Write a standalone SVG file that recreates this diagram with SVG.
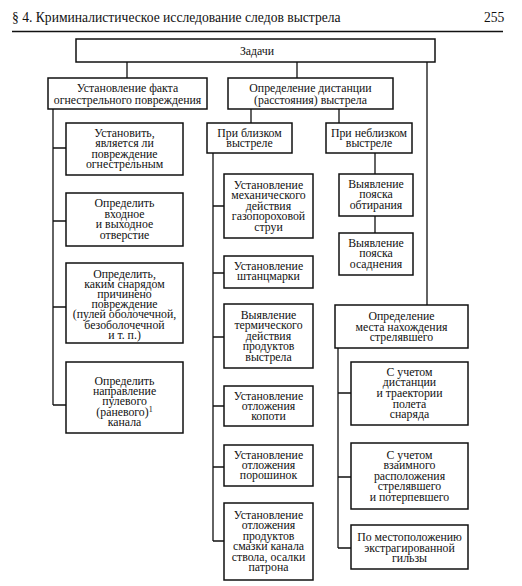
<svg xmlns="http://www.w3.org/2000/svg" width="522" height="586" viewBox="0 0 522 586" font-family="'Liberation Serif', 'Times New Roman', serif">
<style>
.bx{fill:#fff;stroke:#111;stroke-width:1.5}
.ln{stroke:#111;stroke-width:1.3;fill:none}
text{font-family:"Liberation Serif","Times New Roman",serif;fill:#111;font-size:11.8px;text-anchor:middle}
.hd{font-size:13.6px;text-anchor:start}
</style>
<rect width="522" height="586" fill="#fff"/>
<g id="header">
<text class="hd" x="12" y="21.5">§ 4. Криминалистическое исследование следов выстрела</text>
<text class="hd" x="484" y="21.5">255</text>
<line x1="12" y1="31.5" x2="503" y2="31.5" stroke="#111" stroke-width="1.5"/>
</g>
<g id="connectors">
<path class="ln" d="M127 62V78M297 62V78M427 62V305M251 109V123M339 109V123"/>
<path class="ln" d="M53 109V405M53 148H66M53 221H66M53 307H66M53 405H66"/>
<path class="ln" d="M213 153V541M213 206H224M213 273H224M213 337H224M213 406H224M213 467H224M213 541H224"/>
<path class="ln" d="M375 153V174M375 216V233"/>
<path class="ln" d="M338 348V548M338 393H351M338 477H351M338 548H351"/>
</g>
<g id="zadachi"><rect class="bx" x="76" y="39" width="359" height="23"/><text x="257" y="54.5">Задачи</text></g>
<g id="fact"><rect class="bx" x="48" y="78" width="159" height="31"/><text x="127.5" y="91.5">Установление факта<tspan x="127.5" dy="12">огнестрельного повреждения</tspan></text></g>
<g id="distance"><rect class="bx" x="228" y="78" width="165" height="31"/><text x="310.5" y="91.5">Определение дистанции<tspan x="310.5" dy="12">(расстояния) выстрела</tspan></text></g>
<g id="a1"><rect class="bx" x="66" y="123" width="117" height="52"/><text x="124.5" y="136.5">Установить,<tspan x="124.5" dy="10.5">является ли</tspan><tspan x="124.5" dy="10.5">повреждение</tspan><tspan x="124.5" dy="10.5">огнестрельным</tspan></text></g>
<g id="a2"><rect class="bx" x="66" y="193" width="117" height="53"/><text x="124.5" y="207">Определить<tspan x="124.5" dy="10.5">входное</tspan><tspan x="124.5" dy="10.5">и выходное</tspan><tspan x="124.5" dy="10.5">отверстие</tspan></text></g>
<g id="a3"><rect class="bx" x="66" y="263" width="117" height="80"/><text x="124.5" y="277.5">Определить,<tspan x="124.5" dy="10.2">каким снарядом</tspan><tspan x="124.5" dy="10.2">причинено</tspan><tspan x="124.5" dy="10.2">повреждение</tspan><tspan x="124.5" dy="10.2">(пулей оболочечной,</tspan><tspan x="124.5" dy="10.2">безоболочечной</tspan><tspan x="124.5" dy="10.2">и т. п.)</tspan></text></g>
<g id="a4"><rect class="bx" x="66" y="362" width="117" height="71"/><text x="124.5" y="384.5">Определить<tspan x="124.5" dy="10.4">направление</tspan><tspan x="124.5" dy="10.4">пулевого</tspan><tspan x="124.5" dy="10.4">(раневого)<tspan font-size="8" dy="-4">1</tspan></tspan><tspan x="124.5" dy="14.4">канала</tspan></text></g>
<g id="close"><rect class="bx" x="207" y="123" width="85" height="30"/><text x="249.5" y="136.5">При близком<tspan x="249.5" dy="10.5">выстреле</tspan></text></g>
<g id="notclose"><rect class="bx" x="326" y="123" width="86" height="30"/><text x="369" y="136.5">При неблизком<tspan x="369" dy="10.5">выстреле</tspan></text></g>
<g id="c1"><rect class="bx" x="224" y="174" width="89" height="64"/><text x="268.5" y="188.5">Установление<tspan x="268.5" dy="10.6">механического</tspan><tspan x="268.5" dy="10.6">действия</tspan><tspan x="268.5" dy="10.6">газопороховой</tspan><tspan x="268.5" dy="10.6">струи</tspan></text></g>
<g id="c2"><rect class="bx" x="224" y="256" width="89" height="32"/><text x="268.5" y="269.5">Установление<tspan x="268.5" dy="10.6">штанцмарки</tspan></text></g>
<g id="c3"><rect class="bx" x="224" y="304" width="89" height="64"/><text x="268.5" y="318.5">Выявление<tspan x="268.5" dy="10.6">термического</tspan><tspan x="268.5" dy="10.6">действия</tspan><tspan x="268.5" dy="10.6">продуктов</tspan><tspan x="268.5" dy="10.6">выстрела</tspan></text></g>
<g id="c4"><rect class="bx" x="224" y="386" width="89" height="40"/><text x="268.5" y="399.5">Установление<tspan x="268.5" dy="10.4">отложения</tspan><tspan x="268.5" dy="10.4">копоти</tspan></text></g>
<g id="c5"><rect class="bx" x="224" y="445" width="89" height="41"/><text x="268.5" y="458.5">Установление<tspan x="268.5" dy="10.4">отложения</tspan><tspan x="268.5" dy="10.4">порошинок</tspan></text></g>
<g id="c6"><rect class="bx" x="224" y="503" width="89" height="77"/><text x="268.5" y="518.5">Установление<tspan x="268.5" dy="10.5">отложения</tspan><tspan x="268.5" dy="10.5">продуктов</tspan><tspan x="268.5" dy="10.5">смазки канала</tspan><tspan x="268.5" dy="10.5">ствола, осалки</tspan><tspan x="268.5" dy="10.5">патрона</tspan></text></g>
<g id="n1"><rect class="bx" x="339" y="174" width="74" height="42"/><text x="376" y="187.5">Выявление<tspan x="376" dy="10.7">пояска</tspan><tspan x="376" dy="10.7">обтирания</tspan></text></g>
<g id="n2"><rect class="bx" x="339" y="233" width="74" height="42"/><text x="376" y="246.5">Выявление<tspan x="376" dy="10.7">пояска</tspan><tspan x="376" dy="10.7">осаднения</tspan></text></g>
<g id="place"><rect class="bx" x="335" y="305" width="133" height="43"/><text x="401.5" y="320">Определение<tspan x="401.5" dy="10.6">места нахождения</tspan><tspan x="401.5" dy="10.6">стрелявшего</tspan></text></g>
<g id="r1"><rect class="bx" x="351" y="362" width="117" height="63"/><text x="409.5" y="375.5">С учетом<tspan x="409.5" dy="10.7">дистанции</tspan><tspan x="409.5" dy="10.7">и траектории</tspan><tspan x="409.5" dy="10.7">полета</tspan><tspan x="409.5" dy="10.7">снаряда</tspan></text></g>
<g id="r2"><rect class="bx" x="351" y="443" width="117" height="66"/><text x="409.5" y="458.5">С учетом<tspan x="409.5" dy="10.6">взаимного</tspan><tspan x="409.5" dy="10.6">расположения</tspan><tspan x="409.5" dy="10.6">стрелявшего</tspan><tspan x="409.5" dy="10.6">и потерпевшего</tspan></text></g>
<g id="r3"><rect class="bx" x="351" y="525" width="117" height="44"/><text x="409.5" y="541">По местоположению<tspan x="409.5" dy="10.5">экстрагированной</tspan><tspan x="409.5" dy="10.5">гильзы</tspan></text></g>
</svg>
